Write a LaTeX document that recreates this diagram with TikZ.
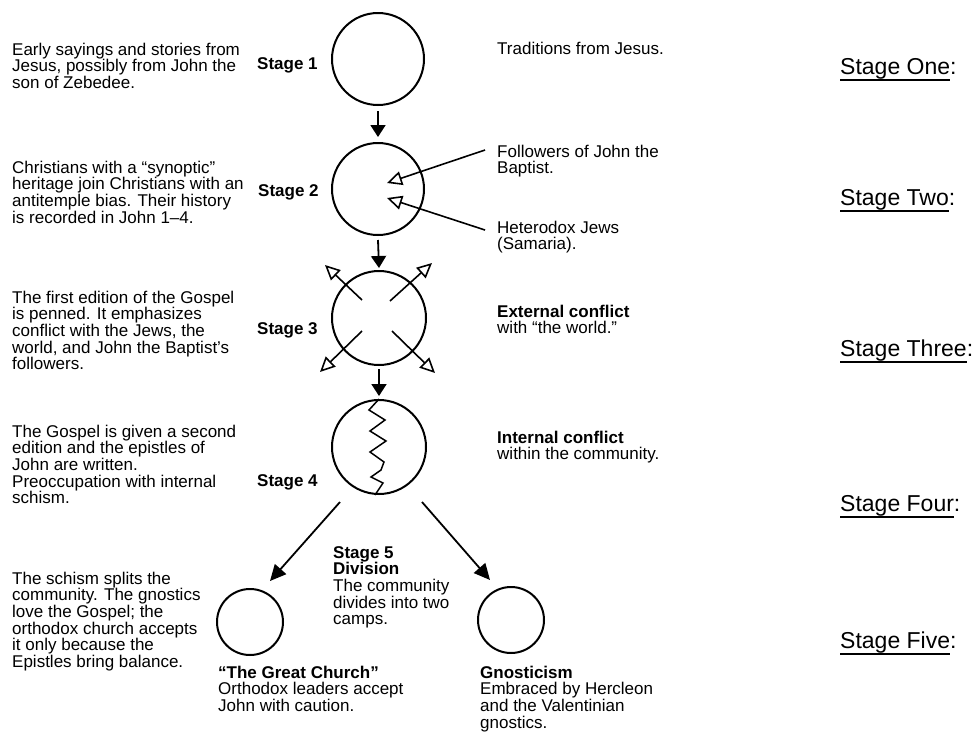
\documentclass[tikz,border=0pt]{standalone}
\usepackage{fontspec}
\setmainfont{Liberation Sans}
\usetikzlibrary{arrows.meta}
\newcommand\myul[1]{\setbox0\hbox{#1}\rlap{\rule[-6.5pt]{\wd0}{1.5pt}}\box0}
\begin{document}
\begin{tikzpicture}[x=1pt,y=-1pt,
  txt/.style={font=\fontsize{17}{16.7}\selectfont, align=left, inner sep=0pt, anchor=base west},
  btxt/.style={txt, font=\fontsize{17}{16.7}\selectfont\bfseries},
  rlab/.style={font=\fontsize{23}{26}\selectfont, inner sep=0pt, anchor=base west},
  circ/.style={circle, draw, line width=2pt, minimum size=#1, inner sep=0pt},
  down/.style={line width=1.8pt, -{Triangle[length=12pt,width=15pt]}},
  opena/.style={line width=1.6pt, -{Triangle[open,length=15pt,width=14pt,line width=1.6pt]}},
  split/.style={line width=1.8pt, -{Triangle[length=16pt,width=15pt]}}]
\useasboundingbox (0,0) rectangle (978,732);
\fill[white] (0,0) rectangle (978,732);

% circles
\node[circ=92] (c1) at (378,59) {};
\node[circ=92] (c2) at (378,189) {};
\node[circ=94] (c3) at (379,318) {};
\node[circ=94] (c4) at (379,447) {};
\node[circ=66] (cl) at (250,622) {};
\node[circ=66] (cr) at (511,620) {};

% vertical arrows
\draw[down] ([yshift=-5pt]c1.south) -- ([yshift=5pt]c2.north);
\draw[down] ([yshift=-4pt]c2.south) -- ([yshift=2pt]c3.north);
\draw[down] ([yshift=-3pt]c3.south) -- ([yshift=3pt]c4.north);

% stage 2 incoming arrows
\coordinate (f1) at (485,150);
\coordinate (f1t) at (387,183);
\coordinate (f2) at (485,230);
\coordinate (f2t) at (387,198);
\draw[opena] (f1) -- (f1t);
\draw[opena] (f2) -- (f2t);

% stage 3 outgoing arrows
\coordinate (s1) at (362,300); \coordinate (t1) at (325,265);
\coordinate (s2) at (390,301); \coordinate (t2) at (432,263);
\coordinate (s3) at (362,331); \coordinate (t3) at (320,372);
\coordinate (s4) at (392,331); \coordinate (t4) at (435,373);
\draw[opena] (s1) -- (t1);
\draw[opena] (s2) -- (t2);
\draw[opena] (s3) -- (t3);
\draw[opena] (s4) -- (t4);

% stage 4 zigzag
\draw[line width=1.5pt, line join=miter] (c4.north) -- (369,410) -- (385,420) -- (370,431) -- (386,441) -- (370,452) -- (384,462) -- (381,470) -- (371,477) -- (383,483) -- ([xshift=-4pt]c4.south);

% stage 5 split arrows
\coordinate (d1) at (340,502); \coordinate (d1t) at (270,581);
\coordinate (d2) at (422,502); \coordinate (d2t) at (490,580);
\draw[split] (d1) -- (d1t);
\draw[split] (d2) -- (d2t);

% stage labels
\node[btxt] (l1) at (257,69) {Stage 1};
\node[btxt] (l2) at (258,196) {Stage 2};
\node[btxt] (l3) at (257,334) {Stage 3};
\node[btxt] (l4) at (257,486) {Stage 4};

% left descriptions (anchor = baseline of last line)
\node[txt] (b1) at (12,88.4) {Early sayings and stories from\\Jesus, possibly from John the\\son of Zebedee.};
\node[txt] (b2) at (12,223.1) {Christians with a “synoptic”\\heritage join Christians with an\\antitemple bias. Their history\\is recorded in John 1–4.};
\node[txt] (b3) at (12,369.8) {The first edition of the Gospel\\is penned. It emphasizes\\conflict with the Jews, the\\world, and John the Baptist’s\\followers.};
\node[txt] (b4) at (12,503.8) {The Gospel is given a second\\edition and the epistles of\\John are written.\\Preoccupation with internal\\schism.};
\node[txt] (b5) at (12,667.5) {The schism splits the\\community. The gnostics\\love the Gospel; the\\orthodox church accepts\\it only because the\\Epistles bring balance.};

% right descriptions
\node[txt] (r1) at (497,54) {Traditions from Jesus.};
\node[txt] (r2) at (497,173.7) {Followers of John the\\Baptist.};
\node[txt] (r3) at (497,249.7) {Heterodox Jews\\(Samaria).};
\node[txt] (r4) at (497,333.7) {{\bfseries External conflict}\\with “the world.”};
\node[txt] (r5) at (497,459.7) {{\bfseries Internal conflict}\\within the community.};

% stage 5 texts
\node[txt] (s5) at (333,624.8) {{\bfseries Stage 5}\\{\bfseries Division}\\The community\\divides into two\\camps.};
\node[txt] (gc) at (218,711.4) {{\bfseries “The Great Church”}\\Orthodox leaders accept\\John with caution.};
\node[txt] (gn) at (480,728.1) {{\bfseries Gnosticism}\\Embraced by Hercleon\\and the Valentinian\\gnostics.};

% far right labels
\node[rlab] (k1) at (840,74) {\myul{Stage One}:};
\node[rlab] (k2) at (840,205) {\myul{Stage Two}:};
\node[rlab] (k3) at (840,356) {\myul{Stage Three}:};
\node[rlab] (k4) at (840,511) {\myul{Stage Four}:};
\node[rlab] (k5) at (840,648) {\myul{Stage Five}:};
\end{tikzpicture}
\end{document}
